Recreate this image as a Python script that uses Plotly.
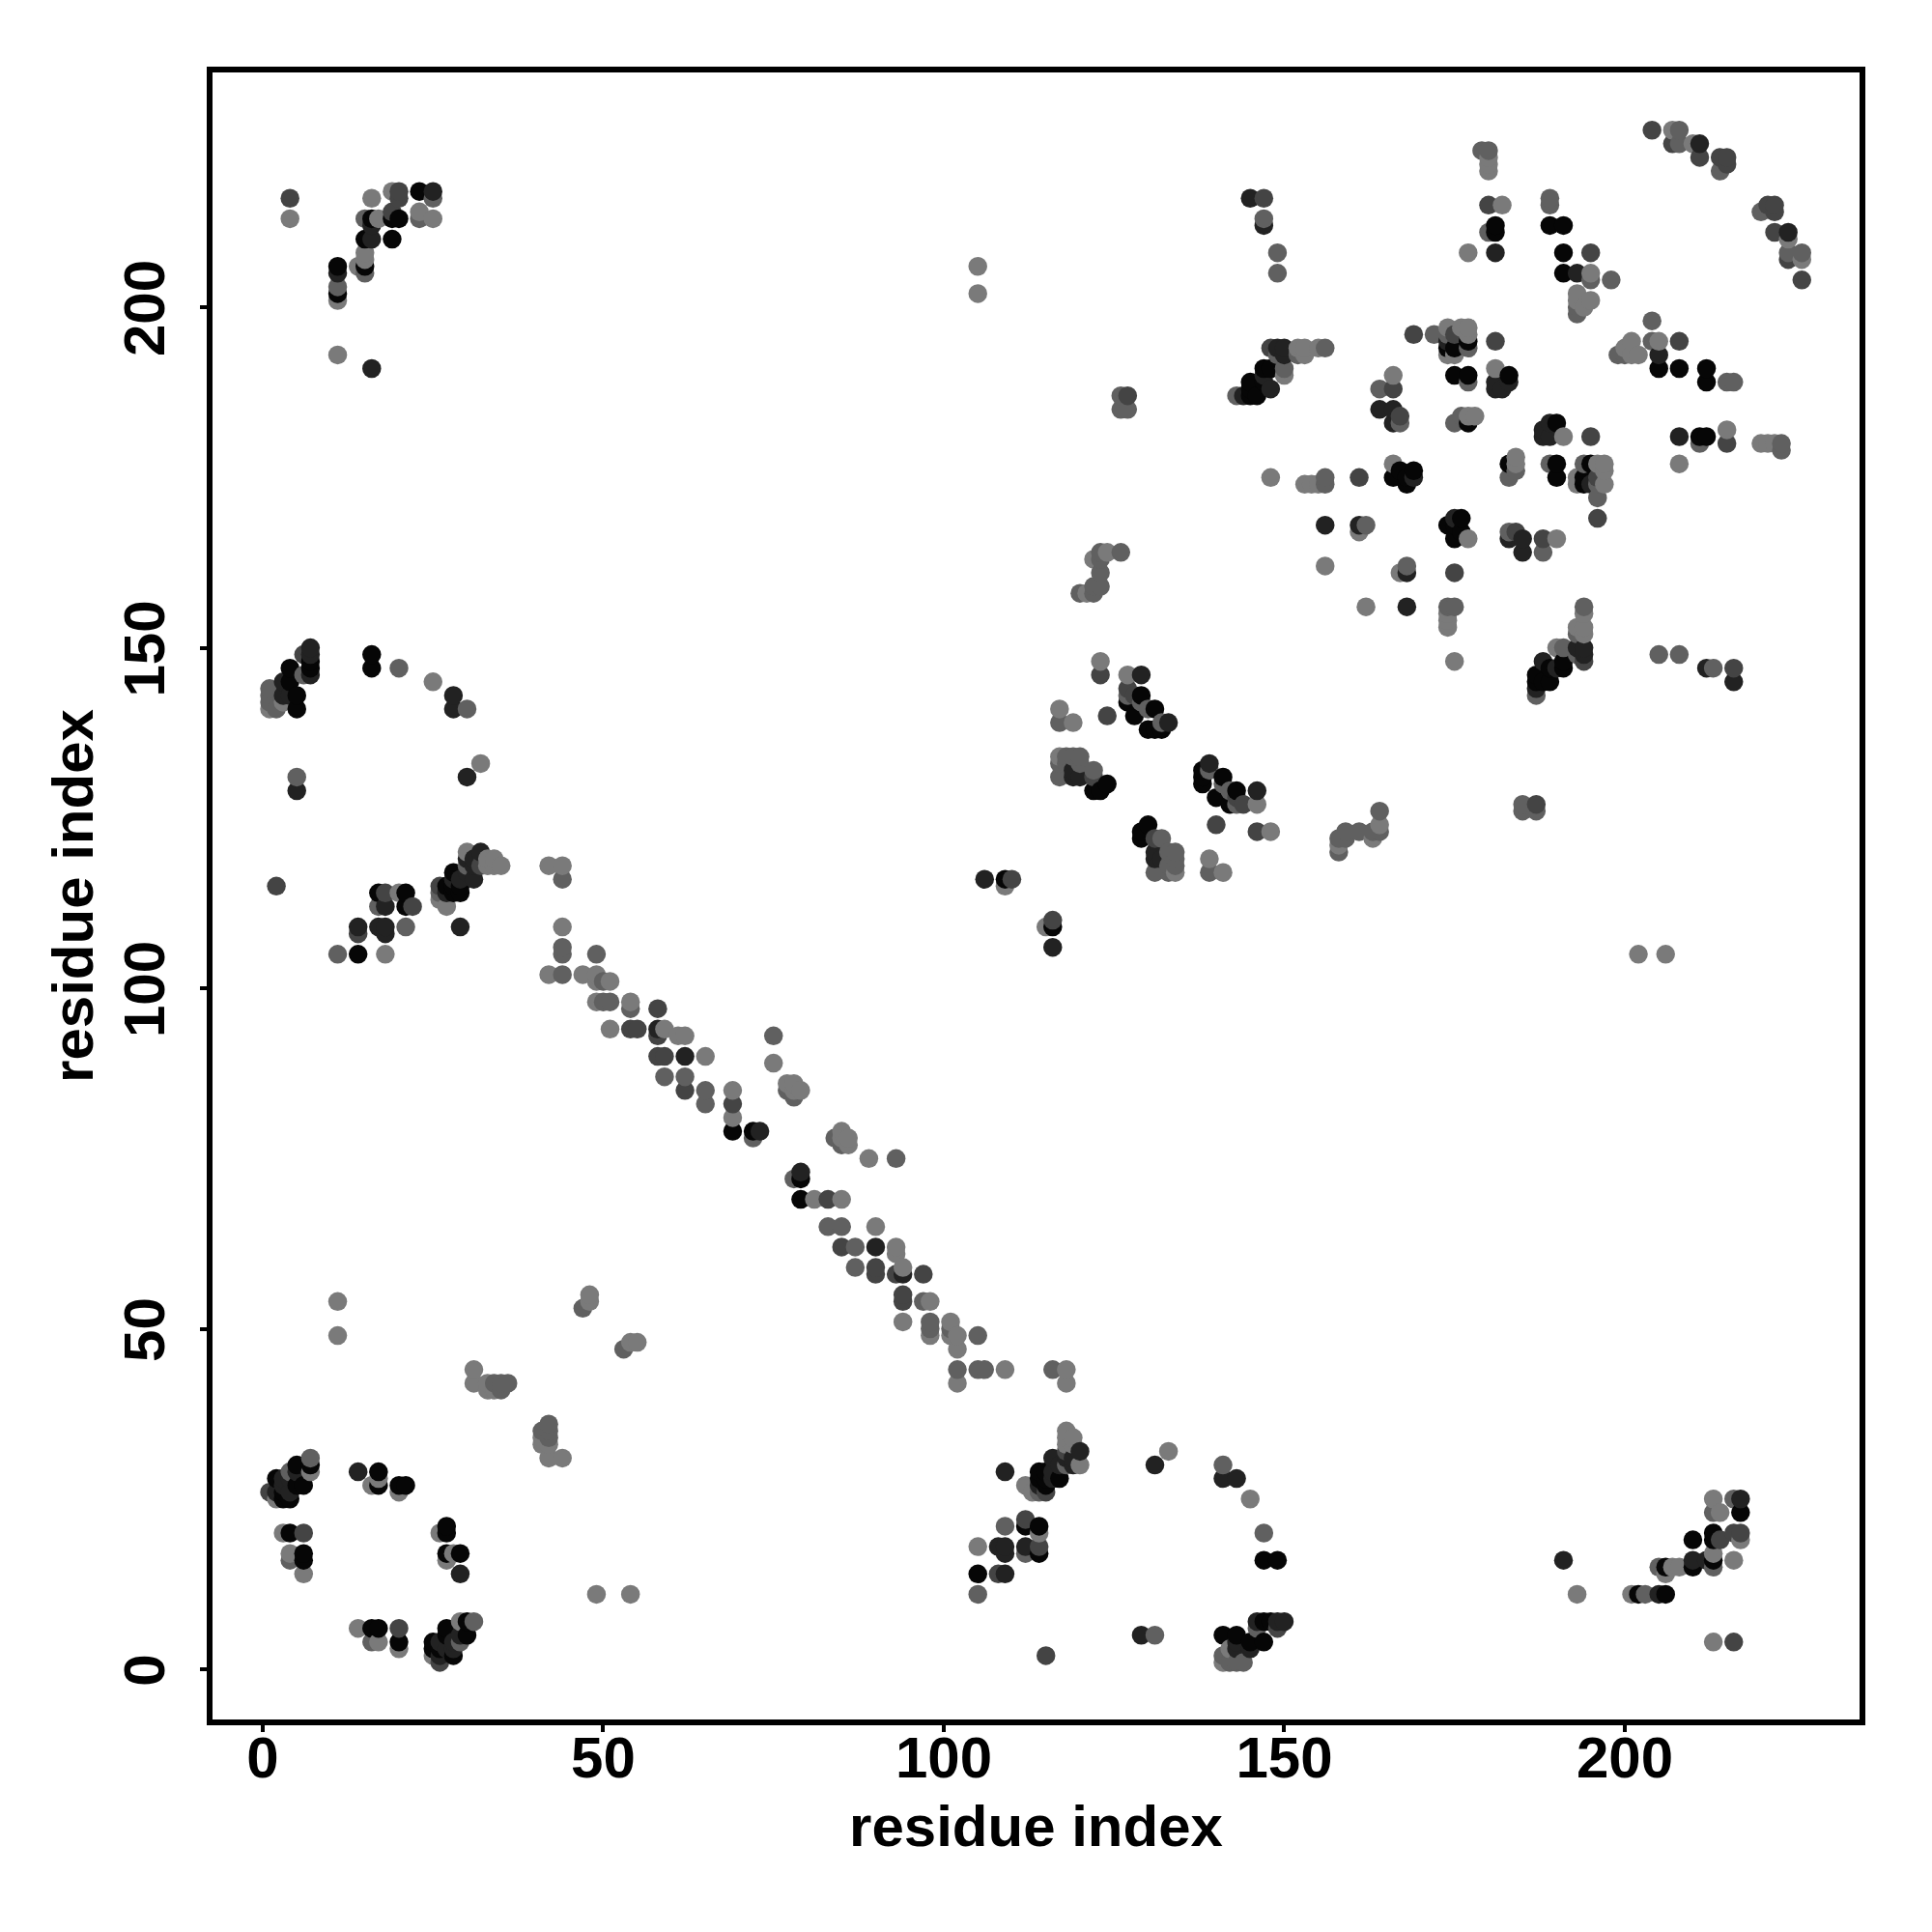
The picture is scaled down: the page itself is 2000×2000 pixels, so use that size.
import pandas as pd
import plotly.graph_objects as go

# Contact pairs, (low residue, high residue), by grey class.
# The map is symmetric: each pair was seen on both sides of the diagonal.
pairs_k0 = [(7,30),(5,30),(6,27),(2,28),(3,25),(4,25),(5,27),(3,26),(17,29),(17,27),(20,27),(21,27),(4,20),(6,17),(6,16),
 (69,79),(72,79),(14,105),(21,112),(21,114),(17,114),(29,115),(29,114),(28,117),(28,115),(28,114),(27,115),
 (7,148),(7,147),(4,147),(5,143),(5,141),(4,145),(16,149),(16,147),(127,142),(129,143),(128,140),(131,141),(130,138),
 (131,138),(132,138),(122,129),(123,129),(124,130),(145,187),(146,187),(145,188),(145,189),(147,189),(147,191),(148,191),
 (175,194),(175,190),(177,190),(177,195),(183,190),(177,183),(166,175),(167,176),(168,174),(168,175),(169,176),(174,194),
 (189,212),(191,212),(191,208),(191,205),(181,212),(181,211),(19,213),(20,213),(23,217),(15,210),(19,210),(16,213),
 (15,206),(11,206),(11,202),(109,116)]
pairs_k1 = [(4,28),(2,26),(4,26),(3,27),(5,29),(3,28),(14,29),(73,79),(62,90),(58,94),(14,109),(17,109),(18,109),(18,108),
 (18,112),(29,116),(29,109),(31,119),(31,118),(31,116),(32,120),(30,119),(30,117),(27,114),(28,116),(7,150),(7,149),(7,146),
 (3,145),(3,143),(4,143),(28,143),(28,141),(30,131),(5,129),(16,191),(129,146),(133,139),(119,131),(120,131),(119,132),
 (106,116),(144,187),(148,188),(147,190),(150,193),(149,194),(150,194),(145,216),(147,212),(156,168),(161,168),(174,195),
 (181,189),(182,188),(183,189),(181,188),(164,185),(166,185),(166,183),(181,208),(211,224),(16,212),(16,210),(11,205),
 (25,217),(169,175),(193,205)]
pairs_k2 = [(1,26),(6,20),(54,94),(55,94),(58,97),(58,93),(58,90),(59,90),(62,85),(69,83),(14,108),(2,115),(22,112),(18,114),
 (32,118),(26,115),(6,149),(4,216),(123,146),(124,140),(127,144),(128,143),(122,131),(169,196),(127,187),(148,194),(147,216),
 (161,175),(181,195),(166,188),(167,184),(204,226),(207,224),(211,222),(214,222),(215,222),(215,221),(180,215),(195,208),
 (19,214),(20,217),(20,216),(110,116),(175,196)]
pairs_k3 = [(7,31),(4,29),(4,16),(34,42),(35,41),(35,42),(36,42),(47,53),(44,102),(50,101),(50,98),(51,98),(54,97),(59,87),
 (62,87),(65,85),(65,83),(72,78),(75,93),(77,85),(78,84),(11,105),(21,109),(17,112),(44,116),(44,106),(44,105),(49,105),
 (6,146),(1,144),(1,143),(1,142),(2,141),(20,147),(30,141),(5,131),(117,139),(127,143),(132,139),(130,141),(129,142),
 (117,133),(117,131),(118,134),(119,134),(120,134),(120,133),(122,132),(118,133),(120,158),(122,158),(122,159),(123,159),
 (123,161),(123,163),(123,164),(126,164),(126,187),(126,185),(127,185),(143,187),(150,191),(149,193),(152,193),(156,194),
 (149,208),(149,205),(147,213),(156,175),(156,174),(162,168),(172,196),(174,196),(177,194),(177,189),(164,188),(167,183),
 (175,183),(176,184),(208,226),(208,224),(214,220),(189,216),(189,215),(195,204),(198,204),(193,200),(193,199),(15,213),
 (23,213),(25,216),(15,205),(11,203),(26,114),(180,211),(179,223),(180,223),(30,118)]
pairs_k4 = [(7,29),(2,25),(17,28),(16,27),(20,26),(3,20),(4,17),(6,14),(11,49),(11,54),(31,44),(31,42),(33,42),(33,41),(34,41),
 (48,54),(48,55),(42,102),(47,102),(49,102),(49,101),(51,101),(49,98),(54,98),(51,94),(59,94),(61,93),(62,93),(65,90),(69,85),
 (69,81),(75,89),(77,86),(78,86),(78,85),(79,85),(42,118),(44,118),(44,109),(18,105),(20,114),(26,113),(27,112),(33,119),
 (33,118),(34,119),(34,118),(35,118),(30,120),(1,141),(3,142),(25,145),(32,133),(109,115),(105,202),(105,206),(117,141),
 (119,139),(123,148),(127,146),(117,134),(121,158),(122,163),(124,164),(150,190),(152,194),(153,193),(153,194),(155,194),
 (148,175),(153,174),(154,174),(155,174),(161,167),(156,162),(174,197),(174,193),(175,193),(176,197),(177,197),(177,196),
 (166,190),(166,177),(177,184),(178,184),(181,191),(177,208),(182,215),(210,224),(207,226),(180,222),(180,221),(180,220),
 (193,202),(193,201),(195,201),(194,200),(195,205),(4,213),(11,193),(11,201),(14,206),(15,208),(15,207),(16,216),(17,213),
 (19,217),(23,214),(25,213)]
grey_classes = [("#060606", pairs_k0), ("#222222", pairs_k1), ("#444444", pairs_k2), ("#606060", pairs_k3), ("#7a7a7a", pairs_k4)]
tick_values = [0, 50, 100, 150, 200]
axis_label = "residue index"

rows = []
for grey, pairs in grey_classes:
    for a, b in pairs:
        rows.append((a, b, grey))
        rows.append((b, a, grey))
df = pd.DataFrame(rows, columns=["x", "y", "grey"]).drop_duplicates(["x", "y"]).sort_values(["x", "y"])

FONT = "Liberation Sans"
fig = go.Figure(go.Scatter(x=df["x"], y=df["y"], mode="markers",
                           marker=dict(size=19.5, color=df["grey"], line=dict(width=0)),
                           showlegend=False, hoverinfo="skip"))
axis = dict(range=[-7.8, 234.9], tickvals=tick_values, ticks="outside", ticklen=9, tickwidth=4, tickcolor="black",
            showgrid=False, zeroline=False, showline=False,
            tickfont=dict(family=FONT, size=60, color="black", weight="bold"))
fig.update_xaxes(**axis, ticklabelstandoff=-25,
                 title=dict(text=axis_label, font=dict(family=FONT, size=60, color="black", weight="bold"), standoff=16))
fig.update_yaxes(**axis, tickangle=-90, ticklabelstandoff=13, ticklabelshift=10,
                 title=dict(text=axis_label, font=dict(family=FONT, size=60, color="black", weight="bold"), standoff=0))
fig.update_layout(width=2000, height=2000, autosize=False, paper_bgcolor="white", plot_bgcolor="white",
                  margin=dict(l=217, r=72, t=72, b=217),
                  shapes=[dict(type="rect", xref="paper", yref="paper", x0=0, x1=1, y0=0, y1=1,
                               line=dict(color="black", width=6), layer="above")])
fig.write_html("out.html", config=dict(displayModeBar=False), post_script="document.body.style.margin='0';")
